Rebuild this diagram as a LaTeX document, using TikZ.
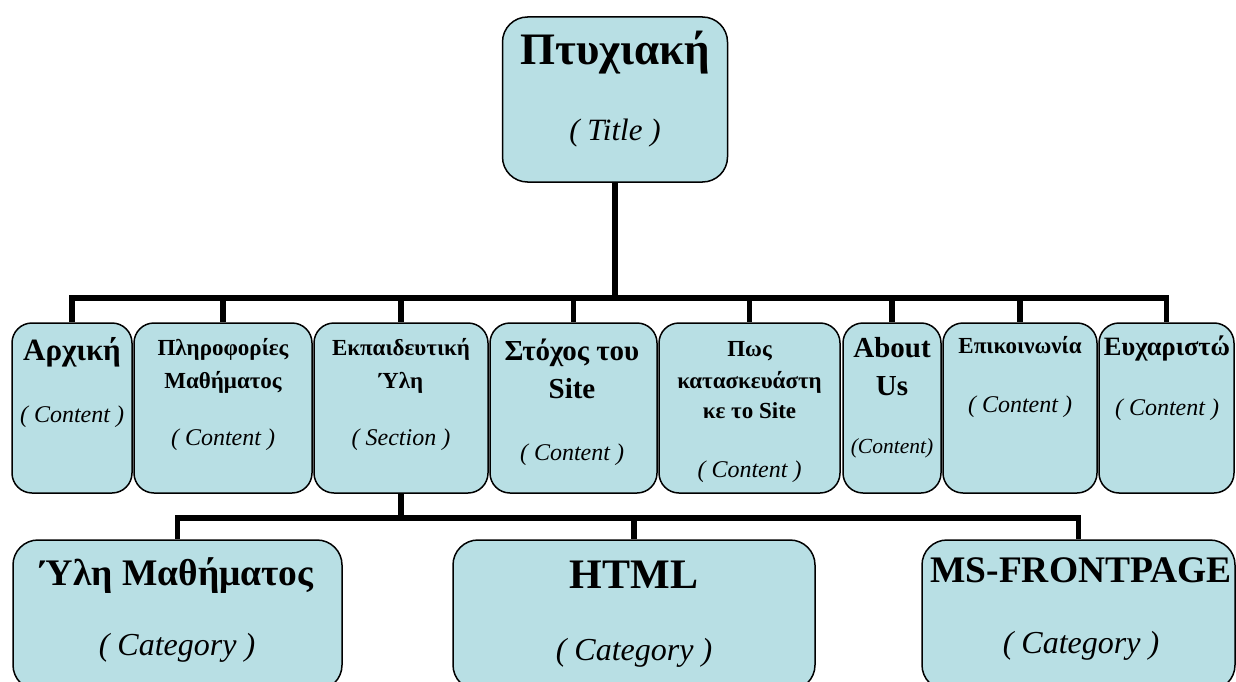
\documentclass[tikz,border=0pt]{standalone}
\usepackage{fontspec}
\setmainfont{Liberation Serif}
\usepackage{tikz}
\definecolor{siteCyan}{RGB}{184,223,228}
\newcommand{\setfs}[1]{\fontsize{#1}{#1}\selectfont}

\begin{document}
\begin{tikzpicture}[
    x=1pt, y=-1pt,
    box/.style={draw=black, line width=1.5pt, fill=siteCyan, rounded corners=20pt, inner sep=0pt},
    conn/.style={line width=5.5pt},
    head/.style={anchor=base, inner sep=0pt, font=\bfseries},
    kind/.style={anchor=base, inner sep=0pt, font=\itshape}
  ]
    \clip (0,0) rectangle (1236,682);

    % title
    \node[box, rounded corners=25pt, minimum width=225pt, minimum height=165pt] (title) at (615,99.5) {};
    \node[head, font=\setfs{45}\bfseries] (titleA) at (615,65) {Πτυχιακή};
    \node[kind, font=\setfs{31}\itshape] (titleB) at (615,140) {( Title )};

    % sections
    \node[box, minimum width=120pt, minimum height=170pt] (b1) at (72,408) {};
    \node[box, minimum width=178pt, minimum height=170pt] (b2) at (223,408) {};
    \node[box, minimum width=174pt, minimum height=170pt] (b3) at (401,408) {};
    \node[box, minimum width=167pt, minimum height=170pt] (b4) at (573.5,408) {};
    \node[box, minimum width=181pt, minimum height=170pt] (b5) at (749.5,408) {};
    \node[box, minimum width=98pt, minimum height=170pt] (b6) at (892,408) {};
    \node[box, minimum width=154pt, minimum height=170pt] (b7) at (1020,408) {};
    \node[box, minimum width=135pt, minimum height=170pt] (b8) at (1166.5,408) {};

    \node[head, font=\setfs{31}\bfseries] (b1A) at (72,360) {Αρχική};
    \node[kind, font=\setfs{24}\itshape] (b1B) at (72,422) {( Content )};

    \node[head, font=\setfs{23}\bfseries] (b2A) at (223,355) {Πληροφορίες};
    \node[head, font=\setfs{23}\bfseries] (b2B) at (223,388) {Μαθήματος};
    \node[kind, font=\setfs{24}\itshape] (b2C) at (223,445) {( Content )};

    \node[head, font=\setfs{23}\bfseries] (b3A) at (401,355) {Εκπαιδευτική};
    \node[head, font=\setfs{23}\bfseries] (b3B) at (401,388) {Ύλη};
    \node[kind, font=\setfs{24}\itshape] (b3C) at (401,445) {( Section )};

    \node[head, font=\setfs{29}\bfseries] (b4A) at (572,360) {Στόχος του};
    \node[head, font=\setfs{29}\bfseries] (b4B) at (572,398) {Site};
    \node[kind, font=\setfs{24}\itshape] (b4C) at (572,460) {( Content )};

    \node[head, font=\setfs{23}\bfseries] (b5A) at (749.5,356) {Πως};
    \node[head, font=\setfs{23}\bfseries] (b5B) at (749.5,388) {κατασκευάστη};
    \node[head, font=\setfs{23}\bfseries] (b5C) at (749.5,418) {κε το Site};
    \node[kind, font=\setfs{24}\itshape] (b5D) at (749.5,477) {( Content )};

    \node[head, font=\setfs{29}\bfseries] (b6A) at (892,357) {About};
    \node[head, font=\setfs{29}\bfseries] (b6B) at (892,395) {Us};
    \node[kind, font=\setfs{21.5}\itshape] (b6C) at (892,453) {(Content)};

    \node[head, font=\setfs{23}\bfseries] (b7A) at (1020,353) {Επικοινωνία};
    \node[kind, font=\setfs{24}\itshape] (b7B) at (1020,412) {( Content )};

    \node[head, font=\setfs{26.5}\bfseries] (b8A) at (1167,355) {Ευχαριστώ};
    \node[kind, font=\setfs{24}\itshape] (b8B) at (1167,415) {( Content )};

    % categories
    \node[box, rounded corners=25pt, minimum width=329pt, minimum height=150pt] (c1) at (177.5,615) {};
    \node[box, rounded corners=25pt, minimum width=362pt, minimum height=150pt] (c2) at (634,615) {};
    \node[box, rounded corners=25pt, minimum width=313pt, minimum height=150pt] (c3) at (1078.5,615) {};

    \node[head, font=\setfs{37.5}\bfseries] (c1A) at (177,585) {Ύλη Μαθήματος};
    \node[kind, font=\setfs{32}\itshape] (c1B) at (177,655) {( Category )};
    \node[head, font=\setfs{42}\bfseries] (c2A) at (634,588) {HTML};
    \node[kind, font=\setfs{32}\itshape] (c2B) at (634,660) {( Category )};
    \node[head, font=\setfs{37.5}\bfseries] (c3A) at (1081,582) {MS-FRONTPAGE};
    \node[kind, font=\setfs{32}\itshape] (c3B) at (1081,653) {( Category )};

    % tree lines
    \coordinate (bus) at (615,298);
    \coordinate (subbus) at (401,518);
    \draw[conn] (title.south) -- (bus);
    \foreach \b in {b1,b2,b3,b4,b5,b6,b7,b8}
      \draw[conn] (bus) -| (\b.north);
    \draw[conn] (b3.south) -- (subbus);
    \foreach \c in {c1,c2,c3}
      \draw[conn] (subbus) -| (\c.north);
\end{tikzpicture}
\end{document}
